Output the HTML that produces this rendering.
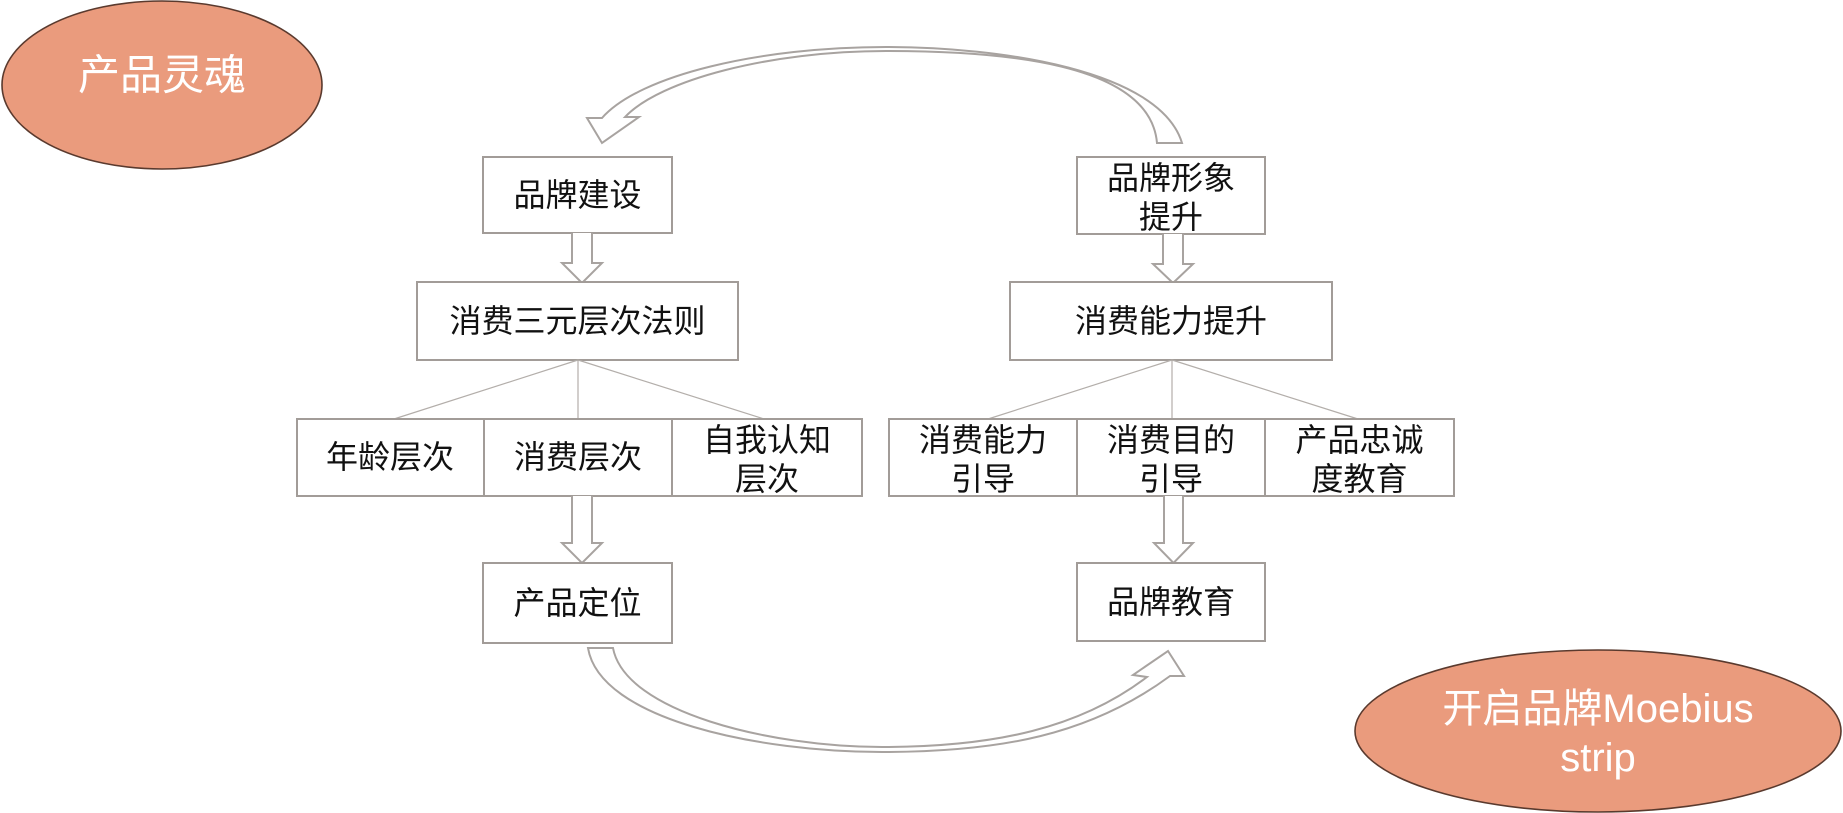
<!DOCTYPE html>
<html>
<head>
<meta charset="utf-8">
<style>
  html, body { margin: 0; padding: 0; background: #ffffff; }
  body { width: 1843px; height: 813px; overflow: hidden; }
  svg { display: block; }
  .t { font-family: "Liberation Sans", "Noto Sans CJK SC", "WenQuanYi Zen Hei", sans-serif; font-size: 32px; fill: #111111; text-anchor: middle; dominant-baseline: central; }
  .w { font-family: "Liberation Sans", "Noto Sans CJK SC", "WenQuanYi Zen Hei", sans-serif; font-size: 40px; fill: #ffffff; text-anchor: middle; dominant-baseline: central; }
  .box { fill: #ffffff; stroke: #a29c98; stroke-width: 2; }
  .fan { stroke: #b3aeaa; stroke-width: 1.2; fill: none; }
  .arr { fill: #ffffff; stroke: #a8a3a0; stroke-width: 2; stroke-linejoin: miter; }
  .ell { fill: #EA9B7D; stroke: #5a3a2e; stroke-width: 1.6; }
</style>
</head>
<body>
<svg width="1843" height="813" viewBox="0 0 1843 813" xmlns="http://www.w3.org/2000/svg">
  <!-- Ellipses -->
  <ellipse class="ell" cx="162" cy="85" rx="160" ry="84"/>
  <text class="w" x="162" y="75" style="font-size:42px">产品灵魂</text>

  <ellipse class="ell" cx="1598" cy="731" rx="243" ry="81"/>
  <text class="w" x="1598" y="709">开启品牌Moebius</text>
  <text class="w" x="1598" y="758">strip</text>

  <!-- Top curved arrow -->
  <path class="arr" d="M 602 118 C 640 75 760 47 886 47 C 1000 47 1160 70 1182 143 L 1157 143 C 1150 62 1000 51 886 51 C 770 51 660 80 625 117 L 639 117 L 602 143 L 587 118 Z"/>

  <!-- Bottom curved arrow -->
  <path class="arr" d="M 588 648 C 600 720 760 752 882 752 C 1000 752 1090 735 1170 676 L 1184 676 L 1168 651 L 1133 675 L 1147 677 C 1080 728 995 747 882 747 C 770 747 625 712 613 648 Z"/>

  <!-- Left column -->
  <rect class="box" x="483" y="157" width="189" height="76"/>
  <text class="t" x="577.5" y="195">品牌建设</text>

  <path class="arr" d="M 572 233 L 572 263 L 562 263 L 582 283 L 602 263 L 592 263 L 592 233"/>

  <rect class="box" x="417" y="282" width="321" height="78"/>
  <text class="t" x="577.5" y="321">消费三元层次法则</text>

  <line class="fan" x1="578" y1="360" x2="394" y2="419"/>
  <line class="fan" x1="578" y1="360" x2="578" y2="419"/>
  <line class="fan" x1="578" y1="360" x2="764" y2="419"/>

  <rect class="box" x="297" y="419" width="565" height="77"/>
  <line class="box" x1="484" y1="419" x2="484" y2="496"/>
  <line class="box" x1="672" y1="419" x2="672" y2="496"/>
  <text class="t" x="390" y="457">年龄层次</text>
  <text class="t" x="578" y="457">消费层次</text>
  <text class="t" x="767" y="440">自我认知</text>
  <text class="t" x="767" y="479">层次</text>

  <path class="arr" d="M 572 496 L 572 543 L 562 543 L 582 563 L 602 543 L 592 543 L 592 496"/>

  <rect class="box" x="483" y="563" width="189" height="80"/>
  <text class="t" x="577.5" y="603">产品定位</text>

  <!-- Right column -->
  <rect class="box" x="1077" y="157" width="188" height="77"/>
  <text class="t" x="1171" y="178">品牌形象</text>
  <text class="t" x="1171" y="217">提升</text>

  <path class="arr" d="M 1163 234 L 1163 264 L 1153 264 L 1173 283 L 1193 264 L 1183 264 L 1183 234"/>

  <rect class="box" x="1010" y="282" width="322" height="78"/>
  <text class="t" x="1171" y="321">消费能力提升</text>

  <line class="fan" x1="1172" y1="360" x2="988" y2="419"/>
  <line class="fan" x1="1172" y1="360" x2="1172" y2="419"/>
  <line class="fan" x1="1172" y1="360" x2="1358" y2="419"/>

  <rect class="box" x="889" y="419" width="565" height="77"/>
  <line class="box" x1="1077" y1="419" x2="1077" y2="496"/>
  <line class="box" x1="1265" y1="419" x2="1265" y2="496"/>
  <text class="t" x="983" y="440">消费能力</text>
  <text class="t" x="983" y="479">引导</text>
  <text class="t" x="1171" y="440">消费目的</text>
  <text class="t" x="1171" y="479">引导</text>
  <text class="t" x="1359.5" y="440">产品忠诚</text>
  <text class="t" x="1359.5" y="479">度教育</text>

  <path class="arr" d="M 1164 496 L 1164 543 L 1154 543 L 1173.5 563 L 1193 543 L 1183 543 L 1183 496"/>

  <rect class="box" x="1077" y="563" width="188" height="78"/>
  <text class="t" x="1171" y="602">品牌教育</text>
</svg>
</body>
</html>
